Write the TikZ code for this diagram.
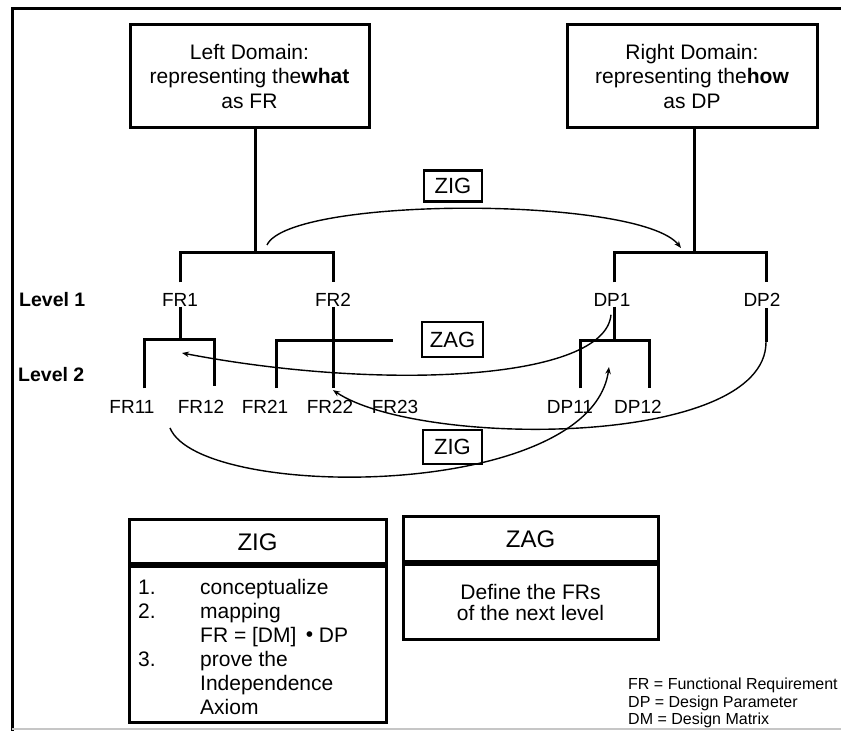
\documentclass[tikz,border=0pt]{standalone}
\usepackage{fontspec}
\setmainfont{Liberation Sans}
\usetikzlibrary{arrows.meta}
\begin{document}
\begin{tikzpicture}[x=1pt,y=1pt,
  tree/.style={line width=3pt},
  curve/.style={line width=1.4pt, -{Stealth[length=7pt,width=5.5pt]}},
  dombox/.style={draw, line width=3pt, minimum width=239pt, minimum height=103pt,
    align=center, inner sep=0pt, font=\fontsize{21}{24.5}\selectfont},
  lbl/.style={inner sep=0pt, font=\fontsize{19}{22}\selectfont},
  lvl/.style={inner sep=0pt, anchor=west, font=\bfseries\fontsize{19.5}{22}\selectfont},
  tag/.style={draw, line width=2.5pt, inner sep=0pt, minimum width=58pt,
    minimum height=31pt, font=\fontsize{22}{24}\selectfont},
  tblbox/.style={draw, line width=3pt, inner sep=0pt},
  frame/.style={line width=3pt}
]
\useasboundingbox (0,0) rectangle (841,731);

% frame
\coordinate (fTL) at (12,722);
\coordinate (fTR) at (841,722);
\coordinate (fBL) at (12,0);
\draw[frame] (fTR) -- (fTL) -- (fBL);
\coordinate (gL) at (12,2);
\coordinate (gR) at (841,2);
\draw[gray!45, line width=1.5pt] (gL) -- (gR);

% domain boxes
\node[dombox] (LB) at (249.5,654.5) {Left Domain:\\representing the\textbf{what}\\as FR};
\node[dombox, minimum width=250pt] (RB) at (692,654.5) {Right Domain:\\representing the\textbf{how}\\as DP};

% level labels
\node[lvl] (lv1) at (19,431) {Level 1};
\node[lvl] (lv2) at (18,356) {Level 2};

% level 1 labels
\node[lbl] (FR1) at (180,431) {FR1};
\node[lbl] (FR2) at (333,431) {FR2};
\node[lbl] (DP1) at (612,431) {DP1};
\node[lbl] (DP2) at (762,431) {DP2};

% level 2 labels
\node[lbl] (FR11) at (132,324) {FR11};
\node[lbl] (FR12) at (201,324) {FR12};
\node[lbl] (FR21) at (265,324) {FR21};
\node[lbl] (FR22) at (330,324) {FR22};
\node[lbl] (FR23) at (395,324) {FR23};
\node[lbl] (DP11) at (570,324) {DP11};
\node[lbl] (DP12) at (638,324) {DP12};

% tree, left
\coordinate (L0) at (255,478);
\draw[tree] ([xshift=5.5pt]LB.south) -- (L0);
\draw[tree] ([yshift=11pt]FR1.north) |- (L0) -| ([yshift=11pt]FR2.north);
\coordinate (F1b) at (180,391);
\draw[tree] (FR1.south) -- (F1b);
\draw[tree] ([shift={(12pt,12pt)}]FR11.north) |- (F1b) -| ([shift={(13pt,14pt)}]FR12.north);
\coordinate (F2e) at (393,390);
\draw[tree] (FR2.south) -- ([shift={(3pt,12pt)}]FR22.north);
\draw[tree] ([shift={(11pt,12pt)}]FR21.north) |- (F2e);

% tree, right
\coordinate (R0) at (694,478);
\draw[tree] ([xshift=2pt]RB.south) -- (R0);
\draw[tree] ([shift={(2pt,11pt)}]DP1.north) |- (R0) -| ([shift={(4pt,11pt)}]DP2.north);
\coordinate (D1b) at (614,390);
\draw[tree] ([xshift=2pt]DP1.south) -- (D1b);
\draw[tree] ([shift={(10pt,12pt)}]DP11.north) |- (D1b) -| ([shift={(11pt,12pt)}]DP12.north);
\coordinate (D2e) at (766,389);
\draw[tree] ([shift={(4pt,-1pt)}]DP2.south) -- (D2e);

% tags
\node[tag] (zigA) at (453,545) {ZIG};
\node[tag, minimum width=61pt, minimum height=35pt] (zagA) at (452.5,391.5) {ZAG};
\node[tag, minimum width=59pt, minimum height=34pt] (zigB) at (452.5,284) {ZIG};

% curves
\draw[curve] ([shift={(12pt,8pt)}]L0) .. controls (290,535) and (640,535) .. ([shift={(-13pt,5pt)}]R0);
\draw[curve] ([shift={(-1pt,-8pt)}]DP1.south) .. controls (605,350) and (380,340) .. ([shift={(2pt,-13pt)}]F1b);
\draw[curve] (D2e) .. controls (766,283) and (420,283) .. ([shift={(3pt,10pt)}]FR22.north);
\draw[curve] ([shift={(38pt,-21pt)}]FR11.center) .. controls (200,230) and (590,230) .. ([shift={(-5pt,-26pt)}]D1b);

% ZIG table
\node[tblbox, minimum width=257pt, minimum height=44pt, font=\fontsize{24}{26}\selectfont] (ZIGh) at (257.5,189) {ZIG};
\node[tblbox, minimum width=257pt, minimum height=156pt, anchor=north] (ZIGb) at (ZIGh.south) {};
\node[inner sep=0pt, anchor=base west, font=\fontsize{21}{24}\selectfont] (ZIGt) at (138,136)
  {\begin{tabular}[t]{@{}p{62pt}@{}l@{}}
   1. & conceptualize\\
   2. & mapping\\
      & FR = [DM] \,\raisebox{1pt}{•} DP\\
   3. & prove the\\
      & Independence\\
      & Axiom
   \end{tabular}};

% ZAG table
\node[tblbox, minimum width=255pt, minimum height=45pt, font=\fontsize{24}{26}\selectfont] (ZAGh) at (530.5,191.5) {ZAG};
\node[tblbox, minimum width=255pt, minimum height=75pt, anchor=north, align=center,
  font=\fontsize{21}{21}\selectfont] (ZAGb) at (ZAGh.south) {Define the FRs\\of the next level};

% legend
\node[inner sep=0pt, anchor=base west, font=\fontsize{16}{17.5}\selectfont] (leg) at (628,41)
  {\begin{tabular}[t]{@{}l@{}}
   FR = Functional Requirement\\
   DP = Design Parameter\\
   DM = Design Matrix
   \end{tabular}};
\end{tikzpicture}
\end{document}
